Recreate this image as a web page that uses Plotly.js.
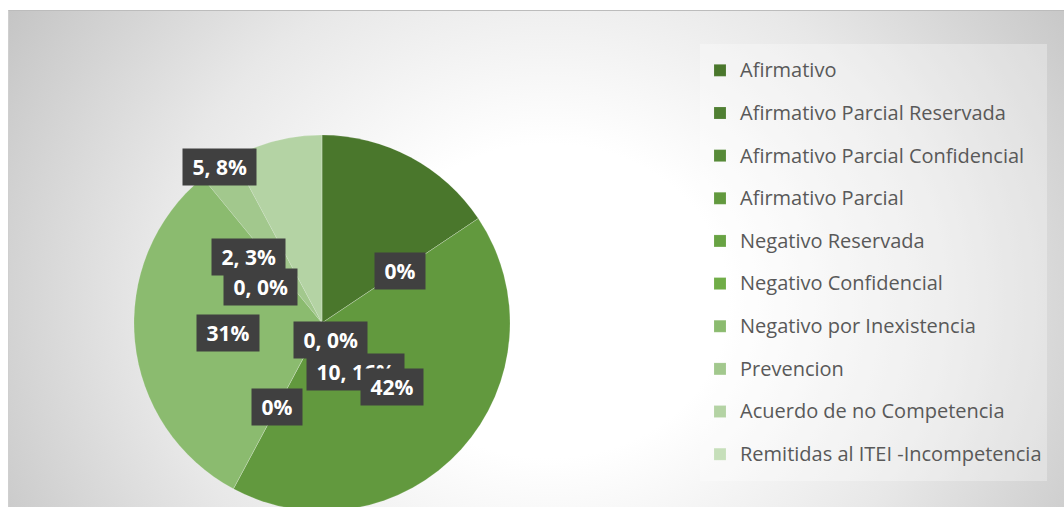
<!DOCTYPE html>
<html>
<head>
<meta charset="utf-8">
<script src="https://cdn.plot.ly/plotly-3.0.1.min.js"></script>
<style>
  html, body { margin: 0; padding: 0; background: #ffffff; overflow: hidden; width: 1064px; height: 507px; }
  #bg { position: absolute; left: 8px; top: 10px; width: 1060px; height: 520px;
        border-top: 1px solid #bcbcbc; border-left: 1px solid #cfcfcf;
        background: radial-gradient(ellipse 640px 560px at 540px 290px, #ffffff 0%, #ffffff 28%, #e8e8e8 62%, #c4c4c4 100%); }
  #chart { position: absolute; left: 0; top: 0; width: 1064px; height: 540px; }
</style>
</head>
<body>
<div id="bg"></div>
<div id="chart"></div>
<script>
// ---- data ----
const categories = [
  "Afirmativo",
  "Afirmativo Parcial Reservada",
  "Afirmativo Parcial Confidencial",
  "Afirmativo Parcial",
  "Negativo Reservada",
  "Negativo Confidencial",
  "Negativo por Inexistencia",
  "Prevencion",
  "Acuerdo de no Competencia",
  "Remitidas al ITEI -Incompetencia"
];
const values = [10, 0, 0, 27, 0, 0, 20, 2, 5, 0];
// how each data label is written: both = "value, pct%", pct = "pct%", none = hidden
const labelFormat = ["both", "pct", "both", "pct", "pct", "none", "pct", "both", "both", "both"];

// ---- style / layout ----
const colors = ["#4a772c", "#507f33", "#578a38", "#62993e", "#68a343", "#70ad47",
                "#8bbb6f", "#a2c88d", "#b4d3a4", "#c6dfba"];
// pixel centres of the (manually placed) data label boxes, same order as categories
const labelPlace = [[355, 372], [400, 271], [330, 340], [392, 387], [277, 407], null,
                    [228, 333], [248, 257], [219, 167], [260, 287]];

const W = 1064, H = 540;
const cx = 322, cy = 323, R = 188;

const total = values.reduce((a, b) => a + b, 0);
const annotations = [];
values.forEach((v, i) => {
  const f = labelFormat[i];
  if (f === "none" || !labelPlace[i]) return;
  const pct = Math.round(v / total * 100) + "%";
  const txt = f === "both" ? v + ", " + pct : pct;
  annotations.push({
    xref: "paper", yref: "paper",
    x: labelPlace[i][0] / W, y: 1 - labelPlace[i][1] / H,
    xanchor: "center", yanchor: "middle",
    text: "&nbsp;" + txt + "&nbsp;",
    showarrow: false,
    bgcolor: "#404040",
    borderpad: 4,
    font: { family: "Open Sans", size: 21, color: "#ffffff", weight: "bold" }
  });
});

const trace = {
  type: "pie",
  labels: categories.map(c => "<span style='font-size:20px;baseline-shift:5px'>" + c + "</span>"),
  values: values,
  sort: false,
  direction: "clockwise",
  rotation: 0,
  textinfo: "none",
  hoverinfo: "none",
  marker: { colors: colors, line: { color: "rgba(255,255,255,0.22)", width: 0.6 } },
  domain: { x: [(cx - R) / W, (cx + R) / W], y: [1 - (cy + R) / H, 1 - (cy - R) / H] }
};

const layout = {
  width: W, height: H,
  margin: { l: 0, r: 0, t: 0, b: 0 },
  paper_bgcolor: "rgba(0,0,0,0)",
  plot_bgcolor: "rgba(0,0,0,0)",
  showlegend: true,
  legend: {
    x: 700 / W, y: 1 - 44 / H, xanchor: "left", yanchor: "top",
    bgcolor: "rgba(255,255,255,0.3)",
    font: { family: "Open Sans", size: 30.5, color: "#595959" },
    traceorder: "normal"
  },
  annotations: annotations
};

Plotly.newPlot("chart", [trace], layout, { staticPlot: true, displayModeBar: false });
</script>
</body>
</html>
